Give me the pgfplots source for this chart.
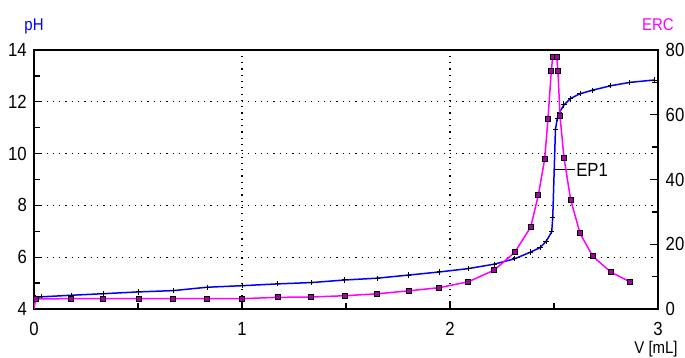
\documentclass[border=0pt]{standalone}
\usepackage{pgfplots}
\pgfplotsset{compat=1.18}
\usepackage{fontspec}
\setmainfont{Liberation Sans}[FakeStretch=0.88]
\definecolor{phblue}{RGB}{0,0,255}
\definecolor{ercmag}{RGB}{255,0,255}
\pgfplotstableread{
V pH
0.008 4.45
0.035 4.47
0.178 4.53
0.332 4.59
0.502 4.66
0.670 4.71
0.832 4.84
1.001 4.90
1.172 4.97
1.332 5.02
1.495 5.12
1.650 5.19
1.801 5.31
1.949 5.43
2.088 5.56
2.212 5.73
2.311 5.94
2.388 6.20
2.433 6.37
2.462 6.61
2.489 6.98
2.494 7.53
2.507 10.94
2.516 11.36
2.526 11.59
2.548 11.88
2.580 12.13
2.625 12.31
2.686 12.45
2.773 12.62
2.865 12.75
2.981 12.84
}\phdata
\pgfplotstableread{
V ERC
0 0
0.008 3.1
0.178 3.2
0.332 3.2
0.505 3.2
0.670 3.2
0.832 3.2
1.001 3.2
1.172 3.6
1.332 3.7
1.495 4.1
1.650 4.7
1.801 5.6
1.949 6.6
2.088 8.4
2.212 12.0
2.311 17.5
2.388 25.3
2.425 35.3
2.455 46.2
2.471 58.7
2.487 73.5
2.494 77.9
2.513 77.9
2.519 73.5
2.529 59.5
2.548 46.7
2.580 33.8
2.625 23.4
2.686 16.3
2.773 11.4
2.865 8.4
}\ercdata
\begin{document}
\begin{tikzpicture}
\useasboundingbox (-34pt,-49pt) rectangle (651pt,309pt);
\pgfplotsset{
  common/.style={
    at={(0,0)}, anchor=south west,
    width=624pt, height=259pt, scale only axis,
    xmin=0, xmax=3,
    tick align=inside,
    major tick length=8pt, minor tick length=6pt,
    axis line style={line width=1.8pt},
    every tick/.style={black, line width=1.3pt},
    tick label style={font=\fontsize{19}{19}\selectfont, inner sep=0pt},
    /pgf/number format/assume math mode=true,
    clip mode=individual,
  }
}
\begin{axis}[common,
  ymin=4, ymax=14,
  xtick={0,1,2,3}, minor xtick={0.5,1.5,2.5},
  ytick={4,6,...,14}, minor ytick={5,7,...,13},
  xtick pos=bottom, ytick pos=left,
  xticklabel style={anchor=north, yshift=-13pt},
  yticklabel style={anchor=east, xshift=-7pt},
  grid=major,
  major grid style={black, line width=1.2pt, dash pattern=on 1.2pt off 5.1pt},
]
\addplot[phblue, line width=1.5pt, mark=+, mark size=2.6pt,
  mark options={black, line width=1pt, solid}] table[x=V, y=pH] {\phdata};
\draw[black, line width=1pt] (axis cs:2.505,9.38) -- (axis cs:2.60,9.38)
  node[right, inner sep=1pt, font=\fontsize{19}{19}\selectfont] {EP1};
\node[phblue, font=\fontsize{17}{17}\selectfont] at (rel axis cs:0,1) [yshift=24pt] {pH};
\node[black, font=\fontsize{17}{17}\selectfont] at (rel axis cs:1,0) [yshift=-40pt, xshift=-2pt] {V [mL]};
\end{axis}
\begin{axis}[common,
  ymin=0, ymax=80,
  axis x line=none, axis y line*=right,
  ytick={0,20,...,80}, minor ytick={10,30,50,70},
  ytick pos=right,
  yticklabel style={anchor=west, xshift=7.5pt},
]
\addplot[ercmag, line width=1.5pt, mark=square*, mark size=2.5pt,
  mark repeat=1, mark phase=2,
  mark options={fill=ercmag!65!black, draw=black, line width=0.9pt, solid}] table[x=V, y=ERC] {\ercdata};
\node[ercmag, font=\fontsize{17}{17}\selectfont] at (rel axis cs:1,1) [yshift=25pt] {ERC};
\end{axis}
\end{tikzpicture}
\end{document}
